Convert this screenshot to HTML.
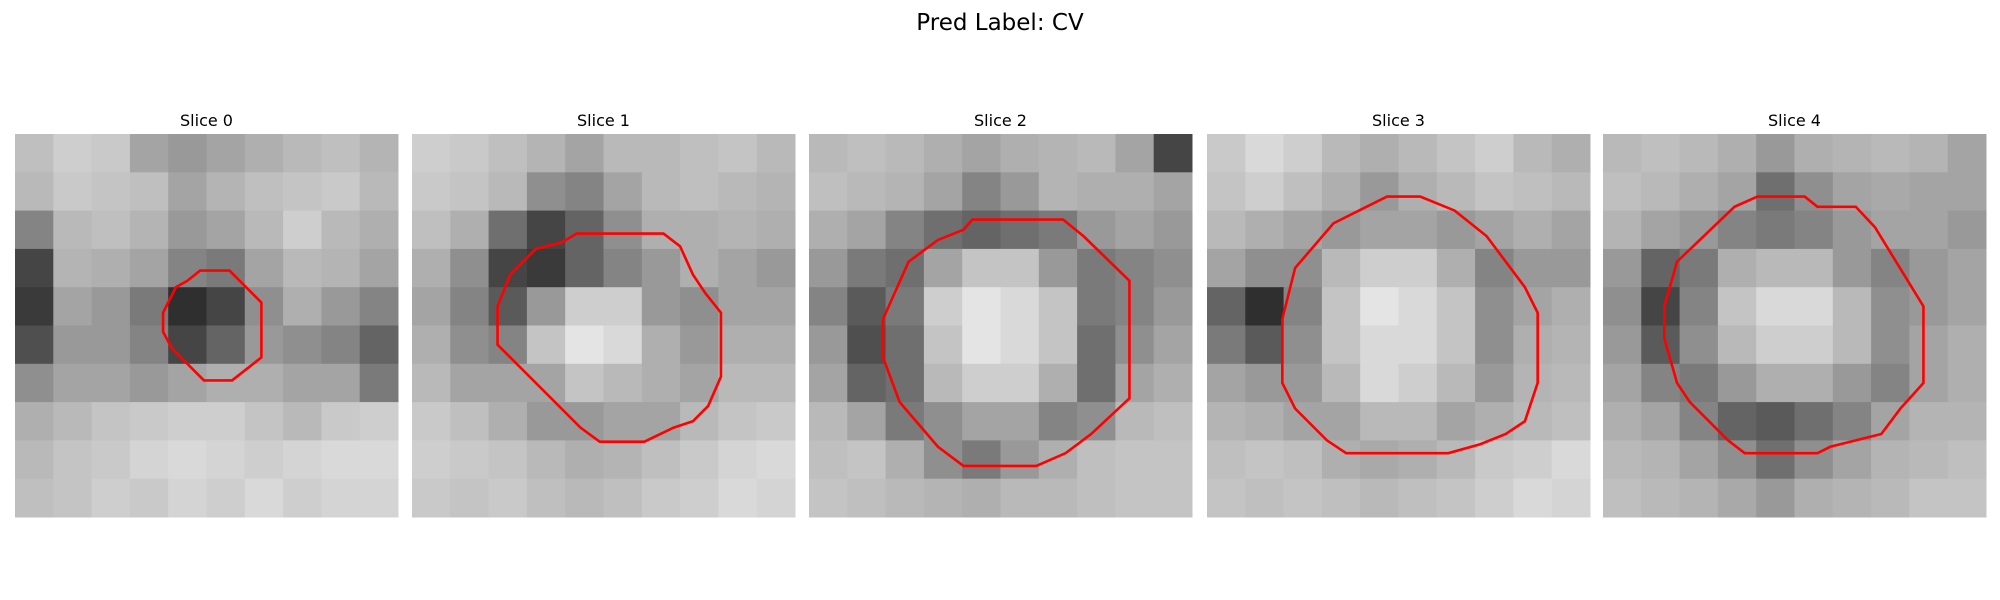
<!DOCTYPE html>
<html><head><meta charset="utf-8"><style>
html,body{margin:0;padding:0;background:#fff;width:2000px;height:600px;overflow:hidden}
svg{display:block;font-family:"DejaVu Sans","Liberation Sans",sans-serif}
</style></head><body>
<svg id="fig" width="2000" height="600" viewBox="0 0 2000 600">
<text x="1000" y="30" text-anchor="middle" font-size="23" fill="#000">Pred Label: CV</text>
</svg>
<script>
const sliceTitles = ["Slice 0","Slice 1","Slice 2","Slice 3","Slice 4"];
const gridSize = 30;
const slice0 = [
[175,190,185,150,140,150,160,170,175,165],[170,185,180,175,150,165,175,180,185,170],
[120,170,175,165,140,150,170,190,170,160],[60,165,160,150,120,110,150,170,165,150],
[50,150,140,110,40,60,130,160,140,120],[70,140,140,120,60,90,140,130,120,90],
[130,150,150,140,150,160,160,150,150,110],[160,170,180,185,190,190,180,170,185,190],
[170,180,185,195,200,195,190,195,200,200],[175,180,190,185,195,190,200,190,195,195]];
const slice1 = [
[190,185,175,165,150,170,170,175,180,170],[185,180,170,130,120,150,170,175,170,165],
[175,160,100,60,90,130,160,160,165,160],[160,130,60,50,90,120,140,160,150,140],
[150,120,80,140,190,190,140,130,150,150],[160,130,120,180,210,200,160,140,160,160],
[170,150,150,150,180,170,160,150,170,170],[185,175,160,140,140,150,150,170,180,185],
[190,185,180,170,160,165,175,185,195,200],[185,180,185,175,170,175,185,190,200,195]];
const slice2 = [
[170,175,170,160,150,160,165,170,150,60],[175,170,165,150,120,140,165,160,160,150],
[160,150,120,100,90,100,110,140,150,140],[140,110,100,150,180,180,140,110,120,130],
[120,80,110,190,210,200,180,110,120,140],[140,70,100,180,210,200,180,100,130,150],
[150,90,100,170,190,190,160,100,150,160],[170,150,110,130,150,150,120,130,170,175],
[175,180,160,130,110,140,160,175,180,180],[180,175,170,165,160,170,170,175,180,180]];
const slice3 = [
[185,200,190,170,160,170,180,190,170,160],[180,190,175,160,140,160,170,180,175,170],
[170,160,150,140,150,150,140,150,160,150],[150,130,130,170,190,190,160,120,140,140],
[90,40,120,180,210,200,180,130,150,160],[110,80,130,180,200,200,180,130,160,165],
[150,140,140,170,200,190,170,140,165,170],[165,160,150,150,170,170,150,160,170,175],
[175,180,175,160,155,160,170,185,190,200],[180,175,180,175,170,175,180,190,200,195]];
const slice4 = [
[170,175,170,160,140,160,165,170,165,150],[175,170,160,150,100,130,150,155,150,150],
[165,150,140,120,110,120,140,150,150,140],[140,90,110,160,170,170,140,120,140,150],
[130,60,120,180,200,200,170,130,140,150],[140,80,130,170,190,190,170,130,150,160],
[150,120,110,140,160,160,140,120,150,160],[160,150,120,90,80,100,120,150,165,165],
[170,165,150,130,100,130,150,165,170,175],[175,170,165,155,140,160,165,170,180,180]];
const contour0 = [[14.5,10.7],[16.8,10.7],[19.3,13.2],[19.3,17.5],[17,19.3],[14.8,19.3],[12.3,16.8],[11.6,15.5],[11.6,14],[12.6,12],[13.5,11.5]];
const contour1 = [[12.9,7.8],[19.7,7.8],[21,8.8],[22,11],[23,12.5],[24.2,14],[24.2,19],[23.2,21.3],[22,22.5],[20.5,23],[18.2,24.1],[14.7,24.1],[13.2,23],[6.7,16.5],[6.7,13.5],[7.7,11],[9.7,9],[11.7,8.5]];
const contour2 = [[12.8,6.7],[19.9,6.7],[21.5,8],[25.1,11.5],[25.1,20.7],[22.1,23.5],[20.1,25],[17.8,26],[12.1,26],[10.1,24.5],[7.1,21],[5.8,17.5],[5.8,14.5],[7.8,10],[10.1,8.3],[12.1,7.5]];
const contour3 = [[14.1,4.9],[16.7,4.9],[19.4,6],[21.9,8],[24.9,12],[25.9,14],[25.9,19.5],[24.9,22.5],[23.4,23.5],[21.4,24.3],[18.9,25],[10.9,25],[9.4,24],[6.9,21.5],[5.9,19.5],[5.9,14.5],[6.9,10.5],[9.9,7],[11.9,6]];
const contour4 = [[12.1,4.9],[15.8,4.9],[16.8,5.7],[19.8,5.7],[21.3,7.3],[25.1,13.5],[25.1,19.5],[23.3,21.5],[21.8,23.5],[19.8,24],[17.8,24.5],[16.8,25],[11.1,25],[9.8,24],[6.8,21],[5.8,19.5],[4.8,16],[4.8,13.5],[5.8,10],[10.3,5.7]];
const images=[slice0,slice1,slice2,slice3,slice4];
const contours=[contour0,contour1,contour2,contour3,contour4];

const NS="http://www.w3.org/2000/svg";
const fig=document.getElementById('fig');
const panelX=[15,412,809,1207,1603], panelY=134, panelW=383;
const gray=v=>Math.min(255,Math.round(v*1.06+5));
images.forEach((img,i)=>{
  const g=document.createElementNS(NS,'g');
  
  
  const x0=panelX[i];
  const sx=v=>x0+v/gridSize*panelW, sy=v=>panelY+v/gridSize*panelW;
  const t=document.createElementNS(NS,'text');
  
  
  t.setAttribute('x',x0+panelW/2);t.setAttribute('y',126);
  t.setAttribute('text-anchor','middle');t.setAttribute('font-size','16');
  t.textContent=sliceTitles[i];g.appendChild(t);
  const n=img.length, cs=gridSize/n;
  img.forEach((row,r)=>row.forEach((v,c)=>{
    const rc=document.createElementNS(NS,'rect');
    
    
    rc.setAttribute('x',sx(c*cs));rc.setAttribute('y',sy(r*cs));
    rc.setAttribute('width',sx((c+1)*cs)-sx(c*cs)+0.5);rc.setAttribute('height',sy((r+1)*cs)-sy(r*cs)+0.5);
    const k=gray(v);
    rc.setAttribute('fill',`rgb(${k},${k},${k})`);g.appendChild(rc);
  }));
  const p=document.createElementNS(NS,'polygon');
  
  
  p.setAttribute('points',contours[i].map(q=>sx(q[0])+','+sy(q[1])).join(' '));
  p.setAttribute('fill','none');p.setAttribute('stroke','#ff0000');p.setAttribute('stroke-width','2.6');
  g.appendChild(p);
  fig.appendChild(g);
});
</script>
</body></html>
